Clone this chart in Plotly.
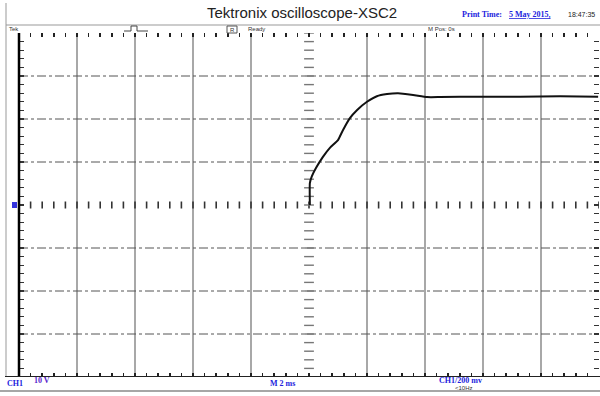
import numpy as np
import plotly.graph_objects as go

# ---- data (time in ms, voltage in V) ----
time_ms = [0.03, 0.03, 0.10, 0.24, 0.48, 0.72, 1.00, 1.17, 1.41, 1.66, 2.00, 2.34,
           2.69, 3.07, 3.59, 4.07, 4.52, 5.90, 7.28, 8.66, 9.97]
volts = [0.0, 5.1, 6.7, 8.6, 11.2, 13.3, 15.1, 17.4, 20.2, 22.1, 24.0, 25.3,
         25.8, 26.0, 25.6, 25.1, 25.1, 25.2, 25.2, 25.3, 25.2]

x_range = [-10, 10]
y_range = [-40, 40]
x_grid = [-8, -6, -4, -2, 2, 4, 6, 8]
y_grid = [-30, -20, -10, 10, 20, 30]

W, H = 600, 396
L, R, T, B = 19, 599, 33, 377


def px(x):
    return (x - L) / (R - L)


def py(y):
    return (B - y) / (B - T)


fig = go.Figure()

# center graticule tick marks
cx = np.arange(-10, 10.001, 0.4)
fig.add_trace(go.Scatter(x=cx, y=[0] * len(cx), mode="markers",
                         marker=dict(symbol="line-ns", size=5, line=dict(width=1.6, color="#333")),
                         hoverinfo="skip", showlegend=False))
cy = np.arange(-40, 40.001, 2)
fig.add_trace(go.Scatter(x=[0] * len(cy), y=cy, mode="markers",
                         marker=dict(symbol="line-ew", size=7, line=dict(width=1.4, color="#777")),
                         hoverinfo="skip", showlegend=False))

# waveform
fig.add_trace(go.Scatter(x=time_ms, y=volts, mode="lines",
                         line=dict(color="#111", width=2, shape="spline", smoothing=0.4),
                         hoverinfo="skip", showlegend=False))

shapes = []
for g in x_grid:
    shapes.append(dict(type="line", xref="x", yref="paper", x0=g, x1=g, y0=0, y1=1,
                       line=dict(color="#a8a8a8", width=2), layer="below"))
for g in y_grid:
    shapes.append(dict(type="line", xref="paper", yref="y", x0=0, x1=1, y0=g, y1=g,
                       line=dict(color="#555", width=1, dash="dashdot"), layer="below"))
# left thick border
shapes.append(dict(type="line", xref="paper", yref="paper", x0=px(19), x1=px(19), y0=0, y1=1,
                   line=dict(color="#000", width=2.5)))
# bottom border
shapes.append(dict(type="line", xref="paper", yref="paper", x0=px(5), x1=px(600), y0=py(376.5), y1=py(376.5),
                   line=dict(color="#222", width=1.2)))
# outer frame left line
shapes.append(dict(type="line", xref="paper", yref="paper", x0=px(6), x1=px(6), y0=py(3), y1=py(376),
                   line=dict(color="#999", width=1)))
# status bar top line
shapes.append(dict(type="line", xref="paper", yref="paper", x0=px(6), x1=px(600), y0=py(25), y1=py(25),
                   line=dict(color="#999", width=1)))
# bottom gray line
shapes.append(dict(type="line", xref="paper", yref="paper", x0=px(0), x1=px(600), y0=py(391), y1=py(391),
                   line=dict(color="#888", width=1.5)))
# R box
shapes.append(dict(type="rect", xref="paper", yref="paper", x0=px(227), x1=px(237), y0=py(33), y1=py(26),
                   line=dict(color="#555", width=1)))
# pulse glyph
pulse = "M {} {} L {} {} L {} {} L {} {} L {} {} L {} {}".format(
    px(124), py(31), px(131), py(31), px(131), py(26), px(137), py(26), px(137), py(31),
    px(148), py(31))
shapes.append(dict(type="path", xref="paper", yref="paper", path=pulse,
                   line=dict(color="#444", width=1)))
# ground marker
shapes.append(dict(type="rect", xref="paper", yref="paper", x0=px(12), x1=px(17), y0=py(208), y1=py(202),
                   fillcolor="#3333dd", line=dict(width=0)))

serif = "Liberation Serif"
sans = "Liberation Sans"
ann = []


def text(t, x, y, size, color, font=sans, anchor="left", bold=False):
    if bold:
        t = "<b>" + t + "</b>"
    ann.append(dict(text=t, xref="paper", yref="paper", x=px(x), y=py(y), xanchor=anchor,
                    yanchor="middle", showarrow=False, font=dict(family=font, size=size, color=color)))


text("Tektronix oscilloscope-XSC2", 302, 13, 15, "#222", anchor="center")
text("Print Time:", 460, 15, 8, "#2222dd", font=serif, bold=True)
text("<u>5 May 2015,</u>", 507, 15, 8, "#2222dd", font=serif, bold=True)
text("18:47:35", 566, 15, 7, "#222", font=sans)
text("Tek", 7, 29, 6, "#333")
text("R", 232, 29.5, 6, "#333", anchor="center")
text("Ready", 246, 29, 6, "#333")
text("M Pos: 0s", 441, 29, 6, "#333", anchor="center")
text("CH1", 5, 383, 8, "#2222dd", font=serif, bold=True)
text("10 V", 32, 380, 8, "#5522cc", font=serif, bold=True)
text("M 2 ms", 268, 383, 8, "#2222dd", font=serif, bold=True)
text("CH1/200 mv", 437, 380, 8, "#2222dd", font=serif, bold=True)
text("<10Hz", 464, 387.5, 6, "#333", anchor="center")

fig.update_layout(
    width=W, height=H,
    margin=dict(l=L, r=W - R, t=T, b=H - B, pad=0),
    paper_bgcolor="white", plot_bgcolor="white",
    shapes=shapes, annotations=ann,
    xaxis=dict(range=x_range, showgrid=False, zeroline=False, showline=False,
               ticks="inside", ticklen=4, tickwidth=1.5, tickcolor="#222",
               tick0=-10, dtick=0.4, mirror="ticks", showticklabels=False, fixedrange=True),
    yaxis=dict(range=y_range, showgrid=False, zeroline=False, showline=False,
               ticks="inside", ticklen=5, tickwidth=1.2, tickcolor="#333",
               tick0=-40, dtick=2, mirror="ticks", showticklabels=False, fixedrange=True),
)

fig.write_html("out.html", config={"displayModeBar": False, "staticPlot": True},
               post_script="document.body.style.margin='0';document.body.style.overflow='hidden';")
